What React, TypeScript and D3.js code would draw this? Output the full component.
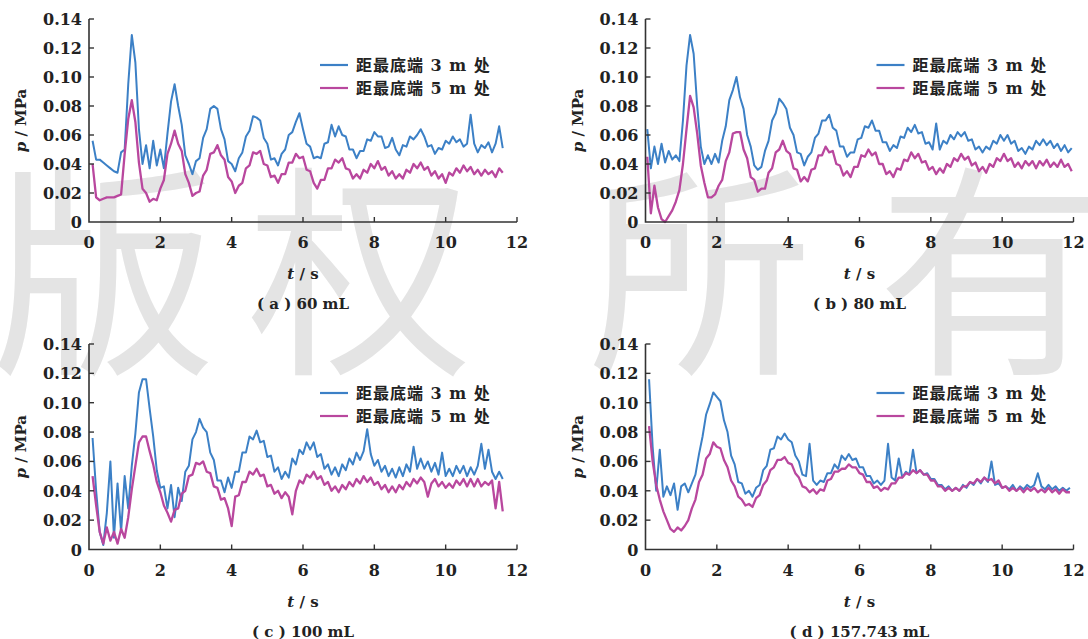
import * as d3 from "d3";

// sampled pressure readings, MPa, one value every 0.1 s
const sampleStep = 0.1;

// (a) 60 mL, starts at t = 0.1 s
const blueA = [
  0.056, 0.043, 0.043, 0.041, 0.039, 0.037, 0.035, 0.034, 0.048, 0.050,
  0.095, 0.129, 0.110, 0.064, 0.040, 0.053, 0.037, 0.056, 0.039, 0.050,
  0.037, 0.061, 0.083, 0.095, 0.080, 0.067, 0.046, 0.040, 0.033, 0.042,
  0.044, 0.058, 0.064, 0.078, 0.080, 0.078, 0.064, 0.057, 0.042, 0.040,
  0.035, 0.044, 0.048, 0.059, 0.063, 0.073, 0.072, 0.070, 0.058, 0.054,
  0.043, 0.044, 0.039, 0.047, 0.050, 0.060, 0.062, 0.069, 0.075, 0.064,
  0.054, 0.052, 0.044, 0.045, 0.044, 0.054, 0.055, 0.067, 0.059, 0.066,
  0.060, 0.059, 0.050, 0.050, 0.044, 0.049, 0.049, 0.057, 0.056, 0.062,
  0.059, 0.059, 0.051, 0.052, 0.058, 0.050, 0.046, 0.053, 0.052, 0.059,
  0.057, 0.060, 0.064, 0.059, 0.052, 0.053, 0.047, 0.051, 0.050, 0.056,
  0.054, 0.059, 0.055, 0.057, 0.052, 0.054, 0.074, 0.054, 0.048, 0.053,
  0.051, 0.055, 0.048, 0.054, 0.066, 0.051,
];
const magentaA = [
  0.040, 0.017, 0.015, 0.016, 0.017, 0.017, 0.017, 0.018, 0.019, 0.047,
  0.071, 0.084, 0.069, 0.041, 0.023, 0.020, 0.014, 0.016, 0.015, 0.023,
  0.029, 0.047, 0.054, 0.063, 0.054, 0.049, 0.033, 0.027, 0.018, 0.020,
  0.021, 0.032, 0.036, 0.047, 0.048, 0.053, 0.046, 0.043, 0.031, 0.028,
  0.020, 0.025, 0.027, 0.037, 0.039, 0.048, 0.047, 0.049, 0.040, 0.039,
  0.031, 0.032, 0.027, 0.033, 0.033, 0.041, 0.041, 0.047, 0.044, 0.045,
  0.036, 0.035, 0.027, 0.023, 0.029, 0.029, 0.037, 0.037, 0.043, 0.041,
  0.044, 0.037, 0.036, 0.030, 0.033, 0.030, 0.036, 0.034, 0.040, 0.037,
  0.042, 0.036, 0.038, 0.032, 0.035, 0.030, 0.033, 0.030, 0.036, 0.034,
  0.040, 0.037, 0.041, 0.036, 0.038, 0.032, 0.035, 0.030, 0.033, 0.027,
  0.034, 0.032, 0.037, 0.034, 0.039, 0.035, 0.038, 0.033, 0.036, 0.032,
  0.036, 0.033, 0.035, 0.031, 0.037, 0.034,
];

// (b) 80 mL, starts at t = 0.05 s
const blueB = [
  0.064, 0.037, 0.052, 0.040, 0.054, 0.041, 0.049, 0.043, 0.046, 0.042,
  0.070, 0.108, 0.129, 0.116, 0.080, 0.052, 0.040, 0.046, 0.040, 0.047,
  0.041, 0.056, 0.066, 0.084, 0.091, 0.100, 0.086, 0.078, 0.060, 0.052,
  0.039, 0.036, 0.038, 0.049, 0.056, 0.070, 0.075, 0.085, 0.082, 0.078,
  0.065, 0.060, 0.048, 0.047, 0.039, 0.045, 0.048, 0.058, 0.061, 0.070,
  0.070, 0.074, 0.065, 0.063, 0.052, 0.052, 0.045, 0.048, 0.048, 0.057,
  0.058, 0.066, 0.065, 0.070, 0.063, 0.063, 0.055, 0.055, 0.049, 0.053,
  0.051, 0.059, 0.058, 0.065, 0.062, 0.067, 0.061, 0.062, 0.054, 0.055,
  0.050, 0.068, 0.050, 0.056, 0.054, 0.060, 0.057, 0.062, 0.059, 0.062,
  0.056, 0.057, 0.050, 0.052, 0.048, 0.052, 0.050, 0.056, 0.054, 0.060,
  0.056, 0.060, 0.054, 0.056, 0.049, 0.051, 0.047, 0.052, 0.050, 0.056,
  0.053, 0.057, 0.053, 0.056, 0.051, 0.054, 0.049, 0.053, 0.048, 0.051,
];
const magentaB = [
  0.045, 0.006, 0.025, 0.010, 0.002, 0.000, 0.004, 0.008, 0.014, 0.022,
  0.040, 0.064, 0.087, 0.079, 0.061, 0.039, 0.027, 0.017, 0.017, 0.019,
  0.025, 0.029, 0.042, 0.048, 0.061, 0.062, 0.062, 0.050, 0.044, 0.031,
  0.029, 0.021, 0.023, 0.023, 0.034, 0.037, 0.048, 0.050, 0.056, 0.049,
  0.047, 0.037, 0.036, 0.028, 0.031, 0.028, 0.036, 0.037, 0.046, 0.046,
  0.052, 0.048, 0.049, 0.040, 0.039, 0.032, 0.035, 0.031, 0.038, 0.038,
  0.046, 0.045, 0.050, 0.046, 0.048, 0.040, 0.040, 0.033, 0.035, 0.031,
  0.037, 0.036, 0.043, 0.042, 0.048, 0.044, 0.047, 0.041, 0.042, 0.036,
  0.038, 0.033, 0.037, 0.034, 0.040, 0.038, 0.044, 0.042, 0.047, 0.043,
  0.045, 0.039, 0.041, 0.035, 0.038, 0.034, 0.040, 0.038, 0.044, 0.042,
  0.047, 0.042, 0.044, 0.038, 0.041, 0.037, 0.042, 0.039, 0.042, 0.037,
  0.042, 0.039, 0.043, 0.038, 0.041, 0.038, 0.043, 0.038, 0.040, 0.035,
];

// (c) 100 mL, starts at t = 0.1 s
const blueC = [
  0.076, 0.040, 0.012, 0.003, 0.025, 0.060, 0.008, 0.045, 0.012, 0.050,
  0.028, 0.057, 0.079, 0.107, 0.116, 0.116, 0.096, 0.077, 0.054, 0.042,
  0.043, 0.028, 0.044, 0.022, 0.042, 0.033, 0.053, 0.057, 0.075, 0.080,
  0.089, 0.083, 0.080, 0.066, 0.061, 0.047, 0.047, 0.039, 0.049, 0.042,
  0.053, 0.053, 0.066, 0.066, 0.077, 0.075, 0.081, 0.073, 0.074, 0.063,
  0.064, 0.053, 0.056, 0.048, 0.053, 0.049, 0.062, 0.058, 0.068, 0.065,
  0.073, 0.068, 0.073, 0.063, 0.065, 0.055, 0.058, 0.051, 0.056, 0.050,
  0.058, 0.054, 0.062, 0.058, 0.066, 0.061, 0.067, 0.082, 0.065, 0.057,
  0.061, 0.053, 0.057, 0.050, 0.055, 0.049, 0.056, 0.050, 0.058, 0.053,
  0.070, 0.055, 0.062, 0.055, 0.060, 0.053, 0.059, 0.051, 0.066, 0.050,
  0.055, 0.050, 0.057, 0.052, 0.057, 0.050, 0.056, 0.051, 0.057, 0.072,
  0.055, 0.068, 0.053, 0.048, 0.053, 0.048,
];
const magentaC = [
  0.050, 0.030, 0.012, 0.004, 0.015, 0.006, 0.012, 0.004, 0.014, 0.008,
  0.022, 0.041, 0.057, 0.073, 0.077, 0.077, 0.067, 0.058, 0.046, 0.039,
  0.030, 0.025, 0.019, 0.027, 0.028, 0.038, 0.040, 0.050, 0.051, 0.059,
  0.058, 0.060, 0.053, 0.052, 0.043, 0.042, 0.034, 0.035, 0.028, 0.016,
  0.036, 0.037, 0.046, 0.046, 0.053, 0.051, 0.055, 0.050, 0.051, 0.043,
  0.044, 0.038, 0.040, 0.035, 0.039, 0.036, 0.024, 0.040, 0.047, 0.045,
  0.051, 0.049, 0.053, 0.048, 0.050, 0.044, 0.046, 0.040, 0.043, 0.039,
  0.044, 0.041, 0.046, 0.043, 0.048, 0.045, 0.050, 0.046, 0.049, 0.044,
  0.046, 0.041, 0.044, 0.039, 0.043, 0.039, 0.044, 0.041, 0.046, 0.043,
  0.048, 0.045, 0.049, 0.046, 0.036, 0.045, 0.048, 0.043, 0.046, 0.042,
  0.045, 0.042, 0.047, 0.044, 0.048, 0.043, 0.048, 0.043, 0.048, 0.043,
  0.046, 0.044, 0.047, 0.028, 0.046, 0.026,
];

// (d) 157.743 mL, starts at t = 0.1 s
const blueD = [
  0.116, 0.070, 0.040, 0.068, 0.036, 0.043, 0.037, 0.045, 0.027, 0.043,
  0.045, 0.039, 0.045, 0.051, 0.065, 0.077, 0.092, 0.099, 0.107, 0.104,
  0.101, 0.088, 0.080, 0.064, 0.058, 0.046, 0.045, 0.038, 0.040, 0.036,
  0.042, 0.044, 0.054, 0.057, 0.068, 0.069, 0.077, 0.075, 0.079, 0.075,
  0.073, 0.064, 0.060, 0.051, 0.050, 0.072, 0.047, 0.044, 0.047, 0.046,
  0.052, 0.052, 0.058, 0.055, 0.064, 0.061, 0.065, 0.061, 0.062, 0.056,
  0.056, 0.050, 0.050, 0.045, 0.047, 0.044, 0.047, 0.072, 0.049, 0.047,
  0.062, 0.049, 0.053, 0.051, 0.068, 0.052, 0.054, 0.051, 0.052, 0.048,
  0.048, 0.044, 0.044, 0.041, 0.043, 0.040, 0.042, 0.040, 0.044, 0.042,
  0.046, 0.044, 0.048, 0.045, 0.049, 0.046, 0.060, 0.044, 0.045, 0.042,
  0.043, 0.041, 0.044, 0.040, 0.043, 0.041, 0.044, 0.042, 0.044, 0.052,
  0.043, 0.041, 0.044, 0.041, 0.043, 0.040, 0.042, 0.040, 0.042,
];
const magentaD = [
  0.084, 0.060, 0.044, 0.034, 0.026, 0.020, 0.014, 0.012, 0.015, 0.013,
  0.016, 0.020, 0.028, 0.034, 0.046, 0.051, 0.062, 0.065, 0.073, 0.070,
  0.069, 0.061, 0.056, 0.047, 0.043, 0.036, 0.034, 0.030, 0.031, 0.029,
  0.035, 0.037, 0.044, 0.047, 0.054, 0.056, 0.061, 0.061, 0.063, 0.059,
  0.058, 0.052, 0.049, 0.043, 0.042, 0.039, 0.041, 0.038, 0.041, 0.040,
  0.047, 0.048, 0.053, 0.053, 0.055, 0.055, 0.058, 0.056, 0.056, 0.052,
  0.051, 0.046, 0.046, 0.042, 0.043, 0.040, 0.042, 0.041, 0.045, 0.045,
  0.049, 0.049, 0.052, 0.051, 0.054, 0.052, 0.054, 0.051, 0.051, 0.047,
  0.047, 0.043, 0.043, 0.040, 0.042, 0.040, 0.042, 0.040, 0.043, 0.043,
  0.046, 0.045, 0.048, 0.046, 0.049, 0.047, 0.048, 0.045, 0.047, 0.042,
  0.043, 0.040, 0.042, 0.040, 0.042, 0.039, 0.042, 0.040, 0.042, 0.039,
  0.041, 0.039, 0.042, 0.039, 0.041, 0.038, 0.041, 0.039, 0.039,
];

const timeTicks = [0, 2, 4, 6, 8, 10, 12];
const pressureTicks = [0, 0.02, 0.04, 0.06, 0.08, 0.1, 0.12, 0.14];
const legendLabels = ["距最底端 3 m 处", "距最底端 5 m 处"];
const captions = ["( a ) 60 mL", "( b ) 80 mL", "( c ) 100 mL", "( d ) 157.743 mL"];
const watermark = ["版", "权", "所", "有"];

const BLUE = "#3c80c6";
const MAGENTA = "#b9479e";
const AXIS = "#333";
const SERIF = '"DejaVu Serif", serif';
const LEGEND_FONT = '"DejaVu Serif", "Noto Sans CJK SC", serif';

const panels = [
  { caption: captions[0], t0: 0.1, blue: blueA, magenta: magentaA, left: 89, top: 19, bottom: 222 },
  { caption: captions[1], t0: 0.05, blue: blueB, magenta: magentaB, left: 645.5, top: 19, bottom: 222 },
  { caption: captions[2], t0: 0.1, blue: blueC, magenta: magentaC, left: 89, top: 344, bottom: 549.5 },
  { caption: captions[3], t0: 0.1, blue: blueD, magenta: magentaD, left: 645.5, top: 344, bottom: 549.5 },
];
const plotWidth = 428;

const Panel = ({ p }) => {
  const x = d3.scaleLinear().domain([0, 12]).range([p.left, p.left + plotWidth]);
  const y = d3.scaleLinear().domain([0, 0.14]).range([p.bottom, p.top]);
  const line = d3.line()
    .x((d, i) => x(p.t0 + i * sampleStep))
    .y(d => y(d));
  const cx = p.left + plotWidth / 2;
  const legX = p.left + 231;
  const legY = p.top + (p.top < 100 ? 46 : 49);

  return (
    <g>
      <path d={line(p.blue)} fill="none" stroke={BLUE} strokeWidth={2} strokeLinejoin="round" />
      <path d={line(p.magenta)} fill="none" stroke={MAGENTA} strokeWidth={2.3} strokeLinejoin="round" />

      {/* axes, ticks inward */}
      <path d={`M${x(0)},${y(0.14)}V${y(0)}H${x(12)}`} fill="none" stroke={AXIS} strokeWidth={1.6} />
      {timeTicks.map(t => (
        <g key={"xt" + t}>
          {t > 0 && <line x1={x(t)} x2={x(t)} y1={y(0)} y2={y(0) - 5} stroke={AXIS} strokeWidth={1.4} />}
          <text x={x(t)} y={y(0) + 26} textAnchor="middle" fontFamily={SERIF} fontWeight="bold"
            fontSize={16} fill="#222">{t}</text>
        </g>
      ))}
      {pressureTicks.map(v => (
        <g key={"yt" + v}>
          {v > 0 && <line x1={x(0)} x2={x(0) + 5} y1={y(v)} y2={y(v)} stroke={AXIS} strokeWidth={1.4} />}
          <text x={x(0) - 7} y={y(v) + 6} textAnchor="end" fontFamily={SERIF} fontWeight="bold"
            fontSize={16} fill="#222">{v === 0 ? "0" : v.toFixed(2)}</text>
        </g>
      ))}

      <text x={cx} y={p.bottom + 57} textAnchor="middle" fontFamily={SERIF} fontWeight="bold" fontSize={15}
        fill="#222"><tspan fontStyle="italic">t</tspan> / s</text>
      <text x={cx} y={p.bottom + 87} textAnchor="middle" fontFamily={SERIF} fontWeight="bold" fontSize={15}
        fill="#222">{p.caption}</text>
      <text transform={`translate(${p.left - 63},${(p.top + p.bottom) / 2}) rotate(-90)`} textAnchor="middle"
        fontFamily={SERIF} fontWeight="bold" fontSize={15} fill="#222">
        <tspan fontStyle="italic">p</tspan> / MPa
      </text>

      {legendLabels.map((lab, i) => (
        <g key={lab}>
          <line x1={legX} x2={legX + 28} y1={legY + i * 23} y2={legY + i * 23}
            stroke={i === 0 ? BLUE : MAGENTA} strokeWidth={2.2} />
          <text x={legX + 36} y={legY + i * 23 + 6} fontFamily={LEGEND_FONT} fontWeight="bold"
            fontSize={16} letterSpacing={1} fill="#222">{lab}</text>
        </g>
      ))}
    </g>
  );
};

export default function App() {
  const wmX = [104, 360, 700, 990];
  return (
    <svg width={1088} height={639} style={{ position: "absolute", left: 0, top: 0, background: "#fff" }}>
      <rect width={1088} height={639} fill="#fff" />
      {watermark.map((c, i) => (
        <text key={c} x={wmX[i]} y={357} textAnchor="middle" fontFamily='"Noto Sans CJK SC", sans-serif'
          fontSize={225} fill="#e4e4e4">{c}</text>
      ))}
      {panels.map(p => <Panel key={p.caption} p={p} />)}
    </svg>
  );
}
